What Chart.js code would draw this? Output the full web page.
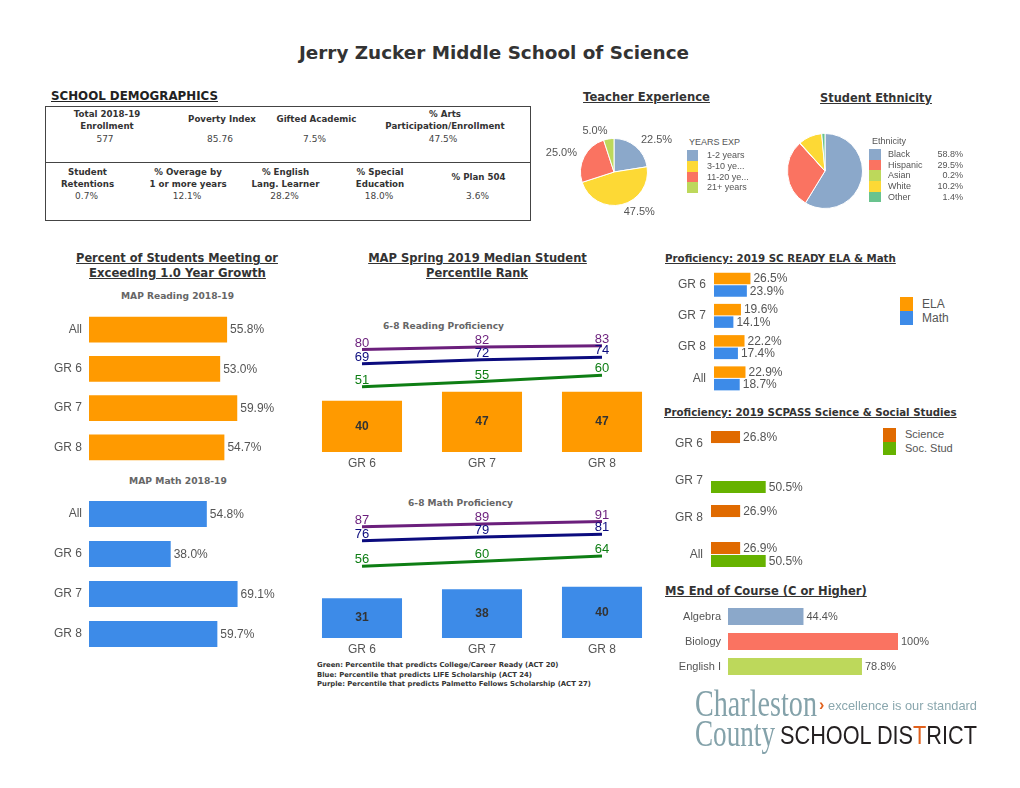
<!DOCTYPE html>
<html><head><meta charset="utf-8">
<script src="https://cdn.jsdelivr.net/npm/chart.js@4"></script>
<style>
html,body{margin:0;padding:0;background:#fff;}
#page{position:relative;width:1020px;height:788px;overflow:hidden;}
.t{position:absolute;white-space:nowrap;line-height:1;}
canvas{position:absolute;}
</style></head>
<body><div id="page"></div>
<script>
// ---------------- DATA ----------------
const schoolName = "Jerry Zucker Middle School of Science";
const demoHeadersTop = [["Total 2018-19","Enrollment"],["Poverty Index"],["Gifted Academic"],["% Arts","Participation/Enrollment"]];
const demoValuesTop = ["577","85.76","7.5%","47.5%"];
const demoHeadersBottom = [["Student","Retentions"],["% Overage by","1 or more years"],["% English","Lang. Learner"],["% Special","Education"],["% Plan 504"]];
const demoValuesBottom = ["0.7%","12.1%","28.2%","18.0%","3.6%"];

const teacherExpLabels = ["1-2 years","3-10 ye...","11-20 ye...","21+ years"];
const teacherExpValues = [22.5,47.5,25.0,5.0];

const ethnicityLabels = ["Black","Hispanic","Asian","White","Other"];
const ethnicityValues = [58.8,29.5,0.2,10.2,1.4];

const growthCats = ["All","GR 6","GR 7","GR 8"];
const growthReading = [55.8,53.0,59.9,54.7];
const growthMath = [54.8,38.0,69.1,59.7];

const mapGrades = ["GR 6","GR 7","GR 8"];
const mapReadingMedian = [40,47,47];
const mapReadingCollege = [51,55,60];
const mapReadingLife = [69,72,74];
const mapReadingPalmetto = [80,82,83];
const mapMathMedian = [31,38,40];
const mapMathCollege = [56,60,64];
const mapMathLife = [76,79,81];
const mapMathPalmetto = [87,89,91];
const mapNotes = ["Green: Percentile that predicts College/Career Ready (ACT 20)",
                  "Blue: Percentile that predicts LIFE Scholarship (ACT 24)",
                  "Purple: Percentile that predicts Palmetto Fellows Scholarship (ACT 27)"];

const readyCats = ["GR 6","GR 7","GR 8","All"];
const readyELA = [26.5,19.6,22.2,22.9];
const readyMath = [23.9,14.1,17.4,18.7];

const scpassCats = ["GR 6","GR 7","GR 8","All"];
const scpassScience = [26.8,null,26.9,26.9];
const scpassSocial = [null,50.5,null,50.5];

const eocCats = ["Algebra","Biology","English I"];
const eocValues = [44.4,100,78.8];

// ---------------- STYLE ----------------
const SANS = '"Liberation Sans", Arial, sans-serif';
const HEAD = '"DejaVu Sans", Verdana, sans-serif';
const C = {
  orange:'#FF9A00', blue:'#3D8BE8', sci:'#E06A00', soc:'#66B200',
  pBlue:'#8BA8CA', pYellow:'#FDD935', pRed:'#FA7361', pGreen:'#BDD85B', pTeal:'#69C38E',
  purple:'#6B1F7C', navy:'#0B0B7E', green:'#0E7E14', txt:'#555'
};
Chart.defaults.font.family = SANS;
Chart.defaults.color = C.txt;

const page = document.getElementById('page');
const mctx = document.createElement('canvas').getContext('2d');
function fitSize(s, fam, bold, target){
  mctx.font = (bold?'bold ':'')+'20px '+fam;
  return 20*target/mctx.measureText(s).width;
}
function txt(s, x, y, o={}) {
  const d = document.createElement('div');
  d.className = 't';
  if (o.html) d.innerHTML = s; else d.textContent = s;
  d.style.fontFamily = o.fam || SANS;
  d.style.fontSize = (o.size||12)+'px';
  d.style.fontWeight = o.bold ? 'bold' : 'normal';
  d.style.color = o.color || C.txt;
  if (o.u) d.style.textDecoration = 'underline';
  page.appendChild(d);
  let r = d.getBoundingClientRect();
  let w = r.width;
  if (o.w) { d.style.fontSize = ((o.size||12)*o.w/w)+'px'; r = d.getBoundingClientRect(); w = r.width; }
  if (o.sx) { d.style.transformOrigin = '0 50%'; d.style.transform = 'scaleX('+(o.sx/w)+')'; w = o.sx; }
  const a = o.align || 'l';
  d.style.left = (a==='c' ? x - w/2 : a==='r' ? x - w : x) + 'px';
  d.style.top = (y - r.height/2) + 'px';
  return d;
}
function box(x,y,w,h,bg,border){
  const d=document.createElement('div');
  d.style.cssText='position:absolute;left:'+x+'px;top:'+y+'px;width:'+w+'px;height:'+h+'px;box-sizing:border-box;background:'+(bg||'transparent')+';'+(border?'border:'+border+';':'');
  page.appendChild(d); return d;
}
function cv(x,y,w,h){
  const c=document.createElement('canvas');
  c.width=w; c.height=h;
  c.style.left=x+'px'; c.style.top=y+'px'; c.style.width=w+'px'; c.style.height=h+'px';
  page.appendChild(c); return c;
}
function fmtVal(v, kind){
  if (kind==='int') return String(v);
  if (v>=100 && v%1===0) return v+'%';
  return v.toFixed(1)+'%';
}

// value labels plugin (reads label settings stored on datasets)
const valueLabels = {
  id:'valueLabels',
  afterDatasetsDraw(chart){
    const ctx = chart.ctx;
    ctx.save();
    chart.data.datasets.forEach((ds, di)=>{
      if (!ds.labelMode) return;
      const meta = chart.getDatasetMeta(di);
      meta.data.forEach((el, i)=>{
        const v = ds.data[i];
        if (v==null) return;
        const s = fmtVal(v, ds.labelKind);
        ctx.font = ds.labelFont || ('12px '+SANS);
        ctx.fillStyle = ds.labelColor || ds.borderColor;
        if (ds.labelMode==='end'){ ctx.textAlign='left'; ctx.textBaseline='middle'; ctx.fillText(s, el.x+3, el.y+0.5); }
        else if (ds.labelMode==='center'){ ctx.textAlign='center'; ctx.textBaseline='middle'; ctx.fillText(s, el.x, (el.y+el.base)/2); }
        else if (ds.labelMode==='above'){ ctx.textAlign='center'; ctx.textBaseline='alphabetic'; ctx.fillText(s, el.x, el.y-3); }
      });
    });
    ctx.restore();
  }
};
// outside pie labels
const pieLabels = {
  id:'pieLabels',
  afterDatasetsDraw(chart){
    const ds = chart.data.datasets[0];
    if (!ds.outerLabels) return;
    const ctx = chart.ctx;
    ctx.save();
    ctx.font = '11px '+SANS; ctx.fillStyle = C.txt; ctx.textBaseline='middle';
    chart.getDatasetMeta(0).data.forEach((el,i)=>{
      const m = (el.startAngle+el.endAngle)/2;
      const r = el.outerRadius + 8;
      const x = el.x + Math.cos(m)*r, y = el.y + Math.sin(m)*r;
      ctx.textAlign = Math.cos(m) >= 0 ? 'left' : 'right';
      ctx.fillText(fmtVal(ds.data[i]), x, y);
    });
    ctx.restore();
  }
};

function hbar(x, y, w, h, cats, datasets, o){
  return new Chart(cv(x,y,w,h), {
    type:'bar',
    data:{labels:cats, datasets},
    options:{
      indexAxis:'y', responsive:false, animation:false,
      layout:{padding:{left:0,right:o.padRight,top:0,bottom:0}},
      datasets:{bar:{barPercentage:o.bp, categoryPercentage:o.cp}},
      plugins:{legend:{display:false}, tooltip:{enabled:false}},
      scales:{
        x:{display:false, min:0, max:o.max},
        y:{afterFit:s=>{s.width=o.axisW; s.paddingTop=0; s.paddingBottom=0;},
           grid:{display:false, drawTicks:false}, border:{display:false},
           ticks:{padding:o.tickPad, color:C.txt, font:{size:o.tickSize||12}}}
      }
    },
    plugins:[valueLabels]
  });
}
function mapChart(y, median, college, life, palmetto, color){
  const line = (data, col)=>({type:'line', data, borderColor:col, borderWidth:3, pointRadius:0, fill:false, tension:0,
                              labelMode:'above', labelKind:'int', labelColor:col, labelFont:'13px '+SANS});
  return new Chart(cv(302, y, 360, 150), {
    type:'bar',
    data:{labels:mapGrades, datasets:[
      line(palmetto, C.purple), line(life, C.navy), line(college, C.green),
      {type:'bar', data:median, backgroundColor:color, barPercentage:0.667, categoryPercentage:1,
       labelMode:'center', labelKind:'int', labelColor:'#333', labelFont:'bold 12px '+SANS}
    ]},
    options:{
      responsive:false, animation:false,
      layout:{padding:0},
      plugins:{legend:{display:false}, tooltip:{enabled:false}},
      scales:{
        x:{grid:{display:false, drawTicks:false}, border:{display:false}, afterFit:s=>{s.height=22;},
           ticks:{padding:4, color:C.txt, font:{size:12}}},
        y:{display:false, min:0, max:100}
      }
    },
    plugins:[valueLabels]
  });
}
function pie(x,y,w,h,pad,labels,values,colors,outer){
  return new Chart(cv(x,y,w,h), {
    type:'pie',
    data:{labels, datasets:[{data:values, backgroundColor:colors, borderColor:'#fff', borderWidth:1, hoverOffset:0, outerLabels:outer}]},
    options:{responsive:false, animation:false, layout:{padding:pad},
      plugins:{legend:{display:false}, tooltip:{enabled:false}}},
    plugins:[pieLabels]
  });
}

// ---------------- HEADINGS ----------------
const H = (s,x,y,w,o={}) => txt(s,x,y,Object.assign({fam:HEAD,bold:true,size:12,w,color:'#333'},o));
H(schoolName, 494, 53, 390, {align:'c', size:19});
H("SCHOOL DEMOGRAPHICS", 51, 97, 167, {u:true, color:'#222'});
H("Teacher Experience", 646.5, 98, 127, {align:'c', u:true});
H("Student Ethnicity", 876, 99, 112, {align:'c', u:true});
H("Percent of Students Meeting or", 177, 259, 202, {align:'c', u:true});
H("Exceeding 1.0 Year Growth", 177.5, 274, 177, {align:'c', u:true});
H("MAP Reading 2018-19", 177.5, 297, 113, {align:'c', color:'#666', size:10});
H("MAP Math 2018-19", 178, 481, 98, {align:'c', color:'#666', size:10});
H("MAP Spring 2019 Median Student", 477.5, 259, 219, {align:'c', u:true});
H("Percentile Rank", 477, 274, 102, {align:'c', u:true});
H("6-8 Reading Proficiency", 443.5, 327, 121, {align:'c', color:'#666', size:10});
H("6-8 Math Proficiency", 460.5, 504, 105, {align:'c', color:'#666', size:10});
H(mapNotes[0], 317, 665.5, 242, {size:8});
H(mapNotes[1], 317, 675.3, 215, {size:8});
H(mapNotes[2], 317, 684.7, 274, {size:8});
H("Proficiency: 2019 SC READY ELA & Math", 665, 258, 231, {u:true, size:11});
H("Proficiency: 2019 SCPASS Science & Social Studies", 664, 412, 293, {u:true, size:11});
H("MS End of Course (C or Higher)", 665, 592, 202, {u:true});

// ---------------- DEMOGRAPHICS TABLE ----------------
box(45,106,486,115,null,'1px solid #444');
box(45,162,486,1,'#444');
const tblHeadSize = fitSize("Poverty Index", HEAD, true, 68);
const topCols = [107,222,316.5,445];
const botCols = [87.5,188,285.5,380,478.5];
demoHeadersTop.forEach((lines,i)=>{
  const ys = lines.length===2 ? [114.3,126.7] : [119.5];
  lines.forEach((s,j)=>txt(s, topCols[i], ys[j], {fam:HEAD, bold:true, size:tblHeadSize, color:'#333', align:'c'}));
  txt(demoValuesTop[i], topCols[i]-2, 139.5, {fam:HEAD, size:9, color:'#444', align:'c'});
});
demoHeadersBottom.forEach((lines,i)=>{
  const ys = lines.length===2 ? [172.3,184] : [177.7];
  lines.forEach((s,j)=>txt(s, botCols[i], ys[j], {fam:HEAD, bold:true, size:tblHeadSize, color:'#333', align:'c'}));
  txt(demoValuesBottom[i], botCols[i]-1, 196.5, {fam:HEAD, size:9, color:'#444', align:'c'});
});

// ---------------- PIES ----------------
const teacherColors = [C.pBlue, C.pYellow, C.pRed, C.pGreen];
pie(540,120,148,105,{left:40,right:40,top:18,bottom:19}, teacherExpLabels, teacherExpValues, teacherColors, true);
txt("YEARS EXP", 689, 142, {size:9});
teacherExpLabels.forEach((l,i)=>{
  box(687, 150+i*10.8, 11, 10.8, teacherColors[i]);
  txt(l, 707, 155.4+i*10.8, {size:9});
});
const ethColors = [C.pBlue, C.pRed, C.pGreen, C.pYellow, C.pTeal];
pie(787,133,76,76,0, ethnicityLabels, ethnicityValues, ethColors, false);
txt("Ethnicity", 872, 141, {size:9});
ethnicityLabels.forEach((l,i)=>{
  box(869, 149+i*10.7, 12, 10.7, ethColors[i]);
  txt(l, 888, 154.4+i*10.7, {size:9});
  txt(fmtVal(ethnicityValues[i]), 963, 154.4+i*10.7, {size:9, align:'r'});
});

// ---------------- GROWTH BARS ----------------
hbar(29, 310, 298, 157, growthCats,
  [{data:growthReading, backgroundColor:C.orange, labelMode:'end', labelColor:C.txt}],
  {max:80, axisW:60, padRight:40, bp:0.66, cp:1, tickPad:7});
hbar(29, 494, 272, 160, growthCats,
  [{data:growthMath, backgroundColor:C.blue, labelMode:'end', labelColor:C.txt}],
  {max:80, axisW:60, padRight:40, bp:0.65, cp:1, tickPad:7});

// ---------------- MAP ----------------
mapChart(324, mapReadingMedian, mapReadingCollege, mapReadingLife, mapReadingPalmetto, C.orange);
mapChart(510, mapMathMedian, mapMathCollege, mapMathLife, mapMathPalmetto, C.blue);

// ---------------- SC READY ----------------
hbar(664, 269, 150, 125, readyCats,
  [{data:readyELA, backgroundColor:C.orange, labelMode:'end', labelColor:C.txt},
   {data:readyMath, backgroundColor:C.blue, labelMode:'end', labelColor:C.txt}],
  {max:40, axisW:50, padRight:45, bp:0.92, cp:0.8, tickPad:8});
box(900,297,13,14,C.orange); box(900,311,13,14,C.blue);
txt("ELA", 922, 304, {size:12}); txt("Math", 922, 318, {size:12});

// ---------------- SCPASS ----------------
hbar(661, 425, 160, 148, scpassCats,
  [{data:scpassScience, backgroundColor:C.sci, labelMode:'end', labelColor:C.txt},
   {data:scpassSocial, backgroundColor:C.soc, labelMode:'end', labelColor:C.txt}],
  {max:60, axisW:50, padRight:45, bp:0.93, cp:0.7, tickPad:8});
box(883,428,13,13.5,C.sci); box(883,441.5,13,13.5,C.soc);
txt("Science", 905, 434.5, {size:11}); txt("Soc. Stud", 905, 448, {size:11});

// ---------------- END OF COURSE ----------------
hbar(658, 604, 275, 75, eocCats,
  [{data:eocValues, backgroundColor:[C.pBlue, C.pRed, C.pGreen], labelMode:'end', labelColor:C.txt, labelFont:'11px '+SANS}],
  {max:100, axisW:70, padRight:35, bp:0.68, cp:1, tickPad:7, tickSize:11});

// ---------------- LOGO ----------------
const SERIF = '"Liberation Serif", "DejaVu Serif", serif';
txt("Charleston", 695, 703, {fam:SERIF, size:37, color:'#84A2AA', sx:122});
txt("County", 695, 733, {fam:SERIF, size:37, color:'#84A2AA', sx:80});
txt("\u203A", 819, 705, {size:16, bold:true, color:'#E0601C'});
txt("excellence is our standard", 828, 705, {size:13, color:'#8AA7AE', sx:149});
txt('SCHOOL DIS<span style="color:#E0601C">T</span>RICT', 780, 734.5, {html:true, size:26, color:'#231F20', sx:197});
</script>
</body></html>
